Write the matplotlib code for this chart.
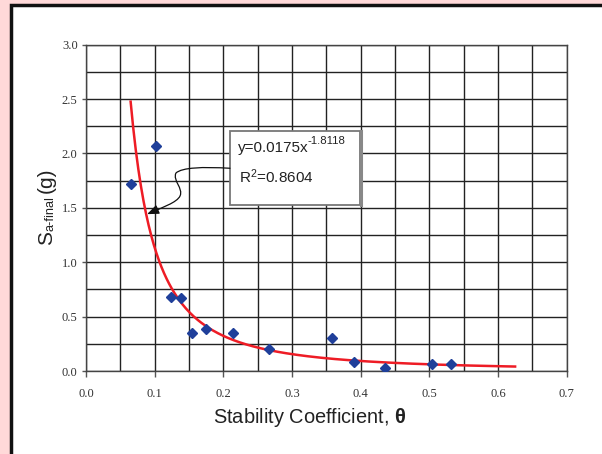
import matplotlib
matplotlib.use("Agg")
import matplotlib.pyplot as plt
import numpy as np
from matplotlib.patches import Rectangle, FancyArrowPatch
from matplotlib.path import Path

# ---- data ----
theta = [0.065, 0.102, 0.124, 0.139, 0.155, 0.175, 0.214, 0.267, 0.358, 0.390, 0.435, 0.504, 0.532]
sa_final = [1.72, 2.07, 0.68, 0.67, 0.35, 0.39, 0.35, 0.20, 0.30, 0.083, 0.028, 0.064, 0.061]
fit_coef = 0.0175
fit_exp = -1.8118
fit_r2 = 0.8604
fit_xmin, fit_xmax = 0.065, 0.625
x_ticks = [0.0, 0.1, 0.2, 0.3, 0.4, 0.5, 0.6, 0.7]
y_ticks = [0.0, 0.5, 1.0, 1.5, 2.0, 2.5, 3.0]

plt.rcParams['mathtext.fontset'] = 'custom'
plt.rcParams['mathtext.rm'] = 'Liberation Sans'
plt.rcParams['mathtext.it'] = 'Liberation Sans:italic'
plt.rcParams['mathtext.bf'] = 'Liberation Sans:bold'

W, H = 602, 454
fig = plt.figure(figsize=(W / 100, H / 100), dpi=100)
fig.patch.set_facecolor('#FFD9D9')

# white panel with black border (left/top visible)
fig.patches.append(Rectangle((10.5 / W, -0.1), 1.2, 1 - 5 / H + 0.1, transform=fig.transFigure,
                             facecolor='white', edgecolor='#111111', linewidth=2.5, zorder=-5))

ax = fig.add_axes([86 / W, 1 - 371 / H, 480.6 / W, 326.3 / H])
ax.set_zorder(2)
ax.set_facecolor('white')
ax.set_xlim(0, 0.7)
ax.set_ylim(0, 3.0)

# grid
for gx in np.arange(0, 0.7001, 0.05):
    ax.axvline(gx, color='#222222', lw=1.0, zorder=1)
for gy in np.arange(0, 3.0001, 0.25):
    ax.axhline(gy, color='#222222', lw=1.0, zorder=1)
for s in ax.spines.values():
    s.set_color('#444444')
    s.set_linewidth(1.0)

ax.set_xticks(x_ticks)
ax.set_yticks(y_ticks)
ax.set_xticklabels([f'{v:.1f}' for v in x_ticks])
ax.set_yticklabels([f'{v:.1f}' for v in y_ticks])
ax.tick_params(axis='x', direction='out', length=4, width=1, color='#555555', pad=8,
               labelsize=9, labelcolor='#333333')
ax.tick_params(axis='y', direction='out', length=3, width=1, color='#555555', pad=3,
               labelsize=9, labelcolor='#333333')
for lab in ax.get_xticklabels() + ax.get_yticklabels():
    lab.set_fontfamily('Liberation Serif')

# fit curve
xf = np.linspace(fit_xmin, fit_xmax, 300)
ax.plot(xf, fit_coef * xf ** fit_exp, color='#EE1C25', lw=1.8, zorder=3)

# data points
ax.plot(theta, sa_final, linestyle='none', marker='D', markersize=5.6,
        color='#1F3F9A', markeredgecolor='#1F3F9A', zorder=4)

# equation box
bx0, bx1, by0, by1 = 0.2097, 0.399, 1.526, 2.206
ax.add_patch(Rectangle((bx0, by0), bx1 - bx0, by1 - by0, facecolor='white',
                       edgecolor='#777777', lw=1.3, zorder=5))
ax.plot([bx1 + 0.0012, bx1 + 0.0012], [by0, by1], color='#888888', lw=2.2, zorder=5)
txt_kw = dict(family='Liberation Sans', color='#222222', zorder=6, va='baseline')
ax.text(0.2214, 2.016, 'y=%.4fx' % fit_coef, fontsize=11, **txt_kw)
ax.text(0.3225, 2.087, '%.4f' % fit_exp, fontsize=8.2, **txt_kw)
ax.text(0.2230, 1.726, r'R$^{\mathregular{2}}$=%.4f' % fit_r2, fontsize=11, **txt_kw)

# curvy arrow
verts = [(0.2097, 1.864),
         (0.17, 1.878), (0.14, 1.872), (0.131, 1.82),
         (0.126, 1.75), (0.142, 1.68), (0.137, 1.61),
         (0.133, 1.55), (0.11, 1.50), (0.089, 1.442)]
codes = [Path.MOVETO] + [Path.CURVE4] * 9
arrow = FancyArrowPatch(path=Path(verts, codes), arrowstyle='-|>,head_length=7,head_width=2.8',
                        color='#111111', lw=0.9, zorder=6)
ax.add_patch(arrow)

# y axis label composed of pieces (S, subscript, (g))
lab_kw = dict(rotation=90, rotation_mode='anchor', ha='left', va='baseline',
              family='Liberation Sans', color='#222222')
fig.text(52 / W, 1 - 245 / H, 'S', fontsize=15, **lab_kw)
fig.text(54 / W, 1 - 231 / H, 'a-final', fontsize=9.2, **lab_kw)
fig.text(52 / W, 1 - 193 / H, '(g)', fontsize=15, **lab_kw)

fig.text(309.5 / W, 1 - 423 / H, r'Stability Coefficient, $\mathbf{\theta}$', ha='center',
         va='baseline', fontsize=14.4, family='Liberation Sans', color='#222222')

fig.savefig('out.png', dpi=100, facecolor=fig.get_facecolor())
